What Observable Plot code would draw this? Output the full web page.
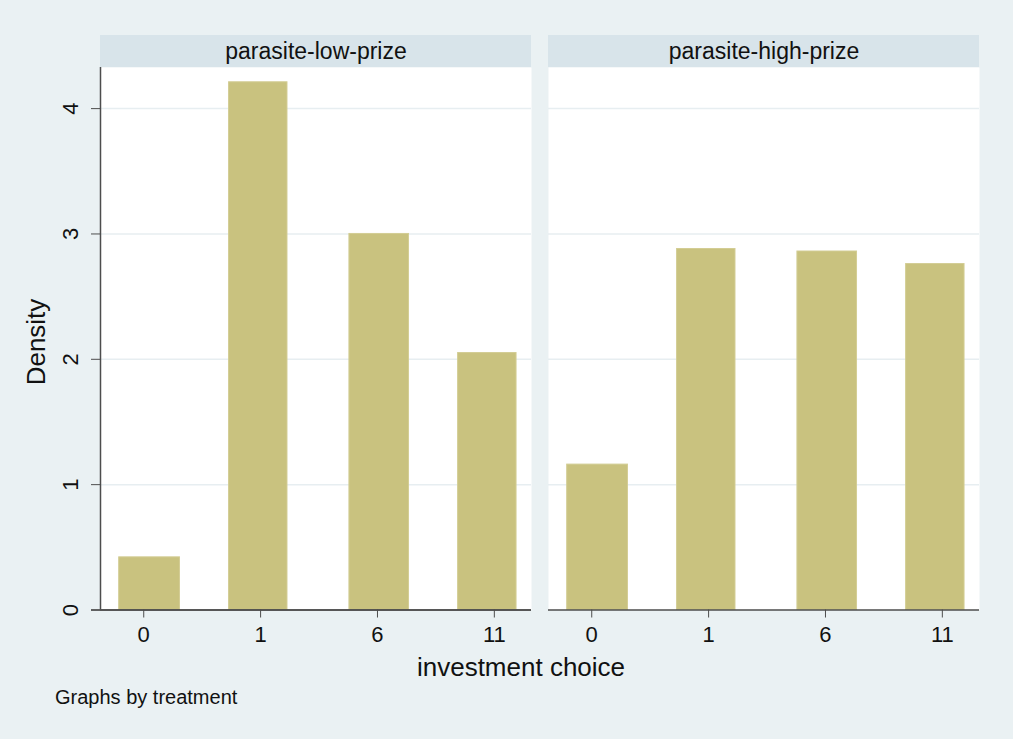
<!DOCTYPE html>
<html>
<head>
<meta charset="utf-8">
<script src="https://cdn.jsdelivr.net/npm/d3@7"></script>
<script src="https://cdn.jsdelivr.net/npm/@observablehq/plot@0.6"></script>
<style>
  html, body { margin: 0; padding: 0; background: #eaf1f3; }
  #chart { position: relative; width: 1013px; height: 739px; background: #eaf1f3;
           font-family: "Liberation Sans", Arial, sans-serif; color: #111; overflow: hidden; }
  #chart svg { position: absolute; left: 0; top: 0; }
  .lbl { position: absolute; white-space: nowrap; line-height: 1; }
</style>
</head>
<body>
<div id="chart"></div>
<script>
// Treatments (one panel each)
const treatments = ["parasite-low-prize", "parasite-high-prize"];
// Investment choices shown on the x axis (category positions 0..3)
const choiceLabels = ["0", "1", "6", "11"];
// Histogram bins (in category-position units) holding each choice
const binStart = [-0.21, 0.73, 1.76, 2.69];
const binEnd   = [0.31, 1.23, 2.27, 3.19];
// Density per bin
const lowPrizeDensity  = [0.42, 4.21, 3.00, 2.05];
const highPrizeDensity = [1.16, 2.88, 2.86, 2.76];
const yTicks = [0, 1, 2, 3, 4];

const series = { "parasite-low-prize": lowPrizeDensity, "parasite-high-prize": highPrizeDensity };
const rows = treatments.flatMap(t => series[t].map((v, i) => ({
  treatment: t, choice: choiceLabels[i], lo: binStart[i], hi: binEnd[i], density: v
})));

// Layout
const W = 1013, H = 739;
const mTop = 67, mBottom = 129.5, mLeft = 99, mRight = 34;
const yDomain = [0, 4.328];
const xDomain = [-0.37, 3.318];
const pxPerUnit = (H - mTop - mBottom) / (yDomain[1] - yDomain[0]);
const headerPx = 32;
const headerTop = yDomain[1] + headerPx / pxPerUnit;

const barFill = "#c9c27f";
const headerFill = "#d8e4ea";
const gridColor = "#e7eef1";
const axisColor = "#4d4d4d";

const plot = Plot.plot({
  width: W,
  height: H,
  marginTop: mTop,
  marginBottom: mBottom,
  marginLeft: mLeft,
  marginRight: mRight,
  style: { background: "transparent", fontFamily: "\"Liberation Sans\", Arial, sans-serif", fontSize: "22px", color: "#111" },
  fx: { domain: treatments, axis: null, paddingInner: 0.038, paddingOuter: 0 },
  x: { domain: xDomain, axis: null },
  y: { domain: yDomain, axis: null },
  marks: [
    Plot.frame({ fill: "white", stroke: null }),
    // panel headers
    Plot.rect(treatments, { fx: d => d, x1: () => xDomain[0], x2: () => xDomain[1], y1: () => yDomain[1], y2: () => headerTop, fill: headerFill }),
    Plot.text(treatments, { fx: d => d, text: d => d, frameAnchor: "top", lineAnchor: "middle", dy: -headerPx / 2, fontSize: 23, fill: "#111" }),
    Plot.gridY([1, 2, 3, 4], { stroke: gridColor, strokeOpacity: 1, strokeWidth: 1.5 }),
    Plot.rectY(rows, { fx: "treatment", x1: "lo", x2: "hi", y: "density", fill: barFill, stroke: "#d3cd94", strokeWidth: 1 }),
    // axes
    Plot.ruleY([0], { stroke: axisColor, strokeWidth: 1.5 }),
    Plot.ruleY([{ t: treatments[0] }], { fx: "t", y: () => 0, insetLeft: -9, stroke: axisColor, strokeWidth: 1.5 }),
    Plot.ruleX([{ t: treatments[0] }], { fx: "t", x: () => xDomain[0], stroke: axisColor, strokeWidth: 1.5 }),
    Plot.axisX([0, 1, 2, 3], { tickFormat: i => choiceLabels[i], tickSize: 8, tickPadding: 8, stroke: axisColor, label: null, fontSize: 22 }),
    Plot.axisY(yTicks, { tickFormat: d3.format("d"), tickSize: 9, tickPadding: 14, tickRotate: -90, stroke: axisColor, label: null, fontSize: 22 })
  ]
});

const chart = document.getElementById("chart");
chart.appendChild(plot);

function addLabel(text, css) {
  const el = document.createElement("div");
  el.className = "lbl";
  el.textContent = text;
  Object.assign(el.style, css);
  chart.appendChild(el);
}
addLabel("Density", { left: "36px", top: "342px", fontSize: "26px", transform: "translate(-50%, -50%) rotate(-90deg)" });
addLabel("investment choice", { left: "521px", top: "667px", fontSize: "26px", transform: "translate(-50%, -50%)" });
addLabel("Graphs by treatment", { left: "55px", top: "697px", fontSize: "20px", transform: "translateY(-50%)" });
</script>
</body>
</html>
